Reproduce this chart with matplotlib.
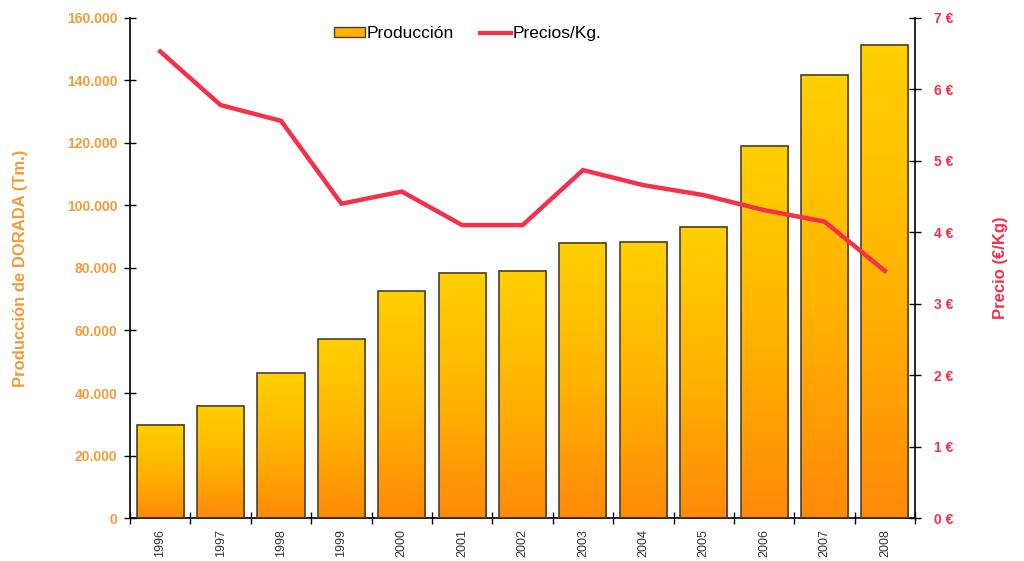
import numpy as np
import matplotlib
matplotlib.use("Agg")
import matplotlib.pyplot as plt
from matplotlib.colors import LinearSegmentedColormap
from matplotlib.patches import Patch
from matplotlib.lines import Line2D
from matplotlib.ticker import FuncFormatter, MultipleLocator

plt.rcParams['font.family'] = ['Liberation Sans', 'DejaVu Sans']

years = ['1996', '1997', '1998', '1999', '2000', '2001', '2002',
         '2003', '2004', '2005', '2006', '2007', '2008']
produccion = [29800, 35900, 46300, 57200, 72600, 78500, 79100,
              88100, 88400, 93200, 119100, 141800, 151500]
precios = [6.53, 5.78, 5.56, 4.40, 4.57, 4.10, 4.10,
           4.87, 4.66, 4.52, 4.31, 4.15, 3.46]

ORANGE_TXT = '#F59A3A'
RED = '#F5304A'
EDGE = '#4a3f33'

fig = plt.figure(figsize=(10.24, 5.61), dpi=100)
ax = fig.add_axes([0.127, 0.0766, 0.7666, 0.8914])

x = np.arange(len(years))
width = 0.78
bars = ax.bar(x, produccion, width=width, facecolor='none',
              edgecolor=EDGE, linewidth=1.2, zorder=3)

# vertical yellow-to-orange gradient inside each bar
cmap = LinearSegmentedColormap.from_list('dorada', ['#FF8A0A', '#FFB400', '#FFD000'])
grad = np.linspace(0, 1, 256).reshape(-1, 1)
for b in bars:
    x0 = b.get_x()
    h = b.get_height()
    ax.imshow(grad, extent=[x0, x0 + width, 0, h], origin='lower',
              aspect='auto', cmap=cmap, zorder=2, interpolation='bilinear')

ax.set_xlim(-0.5, len(years) - 0.5)
ax.set_ylim(0, 160000)
ax.yaxis.set_major_locator(MultipleLocator(20000))
ax.yaxis.set_major_formatter(FuncFormatter(lambda v, p: f"{int(v):,}".replace(',', '.')))

ax.set_xticks(x)
ax.set_xticklabels(years, rotation=90, fontsize=9, color='#333333')
ax.set_xticks(np.arange(-0.5, len(years), 1), minor=True)
ax.tick_params(axis='x', which='major', length=0, pad=8)
ax.tick_params(axis='x', which='minor', length=8, direction='inout', width=1)
ax.tick_params(axis='y', length=8, direction='inout', width=1,
               labelcolor=ORANGE_TXT, labelsize=10, pad=5)
for lab in ax.get_yticklabels():
    lab.set_fontweight('bold')

ax.spines['top'].set_visible(False)
ax.spines['right'].set_visible(False)
for s in ('left', 'bottom'):
    ax.spines[s].set_linewidth(1.2)
ax.set_ylabel('Producción de DORADA (Tm.)', color=ORANGE_TXT,
              fontsize=12, fontweight='bold', labelpad=28)

ax2 = ax.twinx()
ax2.plot(x, precios, color=RED, linewidth=3.2, solid_joinstyle='miter', zorder=5)
ax2.set_ylim(0, 7)
ax2.yaxis.set_major_locator(MultipleLocator(1))
ax2.yaxis.set_major_formatter(FuncFormatter(lambda v, p: f"{int(v)} €"))
ax2.tick_params(axis='y', length=8, direction='inout', width=1,
                labelcolor=RED, labelsize=10, pad=10)
for lab in ax2.get_yticklabels():
    lab.set_fontweight('bold')
ax2.spines['top'].set_visible(False)
ax2.spines['left'].set_visible(False)
ax2.spines['bottom'].set_visible(False)
ax2.spines['right'].set_linewidth(1.2)
ax2.set_ylabel('Precio (€/Kg)', color=RED, fontsize=12, fontweight='bold',
               labelpad=28)

handles = [Patch(facecolor='#FFB000', edgecolor=EDGE, linewidth=1),
           Line2D([0], [0], color=RED, linewidth=3)]
ax2.legend(handles, ['Producción', 'Precios/Kg.'], loc='upper center',
           bbox_to_anchor=(0.43, 1.015), ncol=2, frameon=False, fontsize=12.5,
           handlelength=1.8, handleheight=0.5, handletextpad=0.1, columnspacing=1.5)

fig.savefig('out.png', dpi=100, facecolor='white')
